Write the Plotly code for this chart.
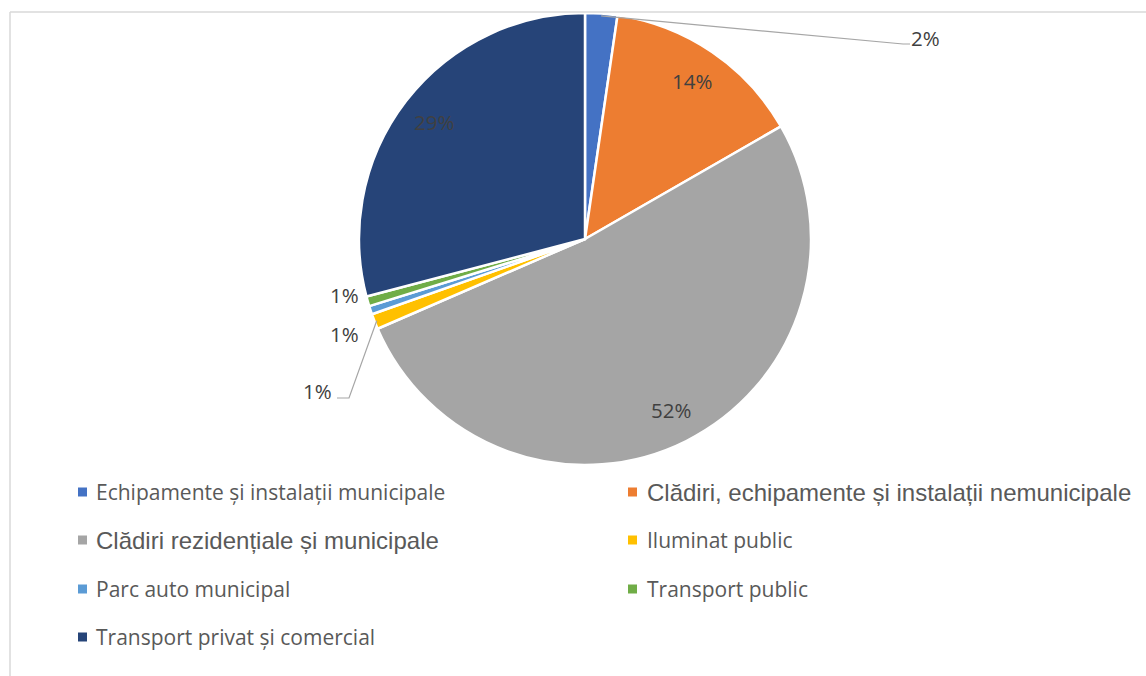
import math
import plotly.graph_objects as go

# Energy consumption shares by sector
categories = [
    "Echipamente și instalații municipale",
    "Clădiri, echipamente și instalații nemunicipale",
    "Clădiri rezidențiale și municipale",
    "Iluminat public",
    "Parc auto municipal",
    "Transport public",
    "Transport privat și comercial",
]
values = [2.3, 14.4, 51.8, 1.1, 0.6, 0.7, 29.1]
colors = ["#4472C4", "#ED7D31", "#A5A5A5", "#FFC000", "#5B9BD5", "#70AD47", "#264478"]

W, H = 1146, 676
CX, CY, R = 585, 239, 226

CALIBRI_LIKE = "'Open Sans', 'Noto Sans', sans-serif"
ARIAL_LIKE = "'Liberation Sans', Arial, sans-serif"
TEXT_COLOR = "#595959"
LABEL_COLOR = "#404040"
LEADER_COLOR = "#A6A6A6"


def px(x):
    return x / W


def py(y):
    return 1 - y / H


fig = go.Figure(
    go.Pie(
        labels=categories,
        values=values,
        sort=False,
        direction="clockwise",
        rotation=0,
        marker=dict(colors=colors, line=dict(color="white", width=2.5)),
        textinfo="none",
        hoverinfo="label+percent",
        showlegend=False,
        domain=dict(x=[px(CX - R), px(CX + R)], y=[py(CY + R), py(CY - R)]),
    )
)

total = sum(values)
pct_text = [f"{round(v / total * 100)}%" for v in values]

# Mid-angle of each slice (degrees clockwise from 12 o'clock)
mids = []
acc = 0.0
for v in values:
    mids.append((acc + v / 2) / total * 360)
    acc += v


def polar(angle_deg, r):
    a = math.radians(angle_deg)
    return CX + r * math.sin(a), CY - r * math.cos(a)


annotations = []
shapes = []
label_font = dict(family=CALIBRI_LIKE, size=20.5, color=LABEL_COLOR)

# Labels inside the large slices
for i in (1, 2, 6):
    lx, ly = polar(mids[i], 0.845 * R)
    annotations.append(dict(
        x=px(lx), y=py(ly), xref="paper", yref="paper", text=pct_text[i],
        showarrow=False, font=label_font, xanchor="center", yanchor="middle",
    ))

# Outside labels: (slice index, label position, leader path or None)
outside = [
    (0, (926, 38), [(903, 44), (910, 44)]),
    (5, (344, 295), None),
    (4, (344, 334), None),
    (3, (317, 391), [(349, 398), (337, 398)]),
]
for i, (lx, ly), path in outside:
    annotations.append(dict(
        x=px(lx), y=py(ly), xref="paper", yref="paper", text=pct_text[i],
        showarrow=False, font=label_font, xanchor="center", yanchor="middle",
    ))
    if path:
        sx, sy = polar(mids[i], R * 0.99)
        pts = [(sx, sy)] + path
        d = "M " + " L ".join(f"{px(x)},{py(y)}" for x, y in pts)
        shapes.append(dict(type="path", path=d, xref="paper", yref="paper",
                           line=dict(color=LEADER_COLOR, width=1.2)))

# Legend drawn as two columns of square markers and text
col_marker_x = [78, 628]
col_text_x = [94, 645]
row_y = [492, 540, 589, 637]
large_entries = {1, 2}
for i, name in enumerate(categories):
    col, row = i % 2, i // 2
    mx, my = col_marker_x[col], row_y[row]
    shapes.append(dict(type="rect", xref="paper", yref="paper",
                       x0=px(mx), x1=px(mx + 9), y0=py(my + 4.5), y1=py(my - 4.5),
                       fillcolor=colors[i], line=dict(width=0)))
    if i in large_entries:
        font = dict(family=ARIAL_LIKE, size=24, color=TEXT_COLOR)
    else:
        font = dict(family=CALIBRI_LIKE, size=21, color=TEXT_COLOR)
    annotations.append(dict(
        x=px(col_text_x[col]), y=py(my), xref="paper", yref="paper", text=name,
        showarrow=False, font=font, xanchor="left", yanchor="middle",
    ))

# Chart area frame
shapes.append(dict(type="line", xref="paper", yref="paper", x0=px(10), x1=1,
                   y0=py(12), y1=py(12), line=dict(color="#D9D9D9", width=1.5)))
shapes.append(dict(type="line", xref="paper", yref="paper", x0=px(10), x1=px(10),
                   y0=py(12), y1=0, line=dict(color="#D9D9D9", width=1.5)))

fig.update_layout(
    width=W, height=H,
    margin=dict(l=0, r=0, t=0, b=0),
    paper_bgcolor="white", plot_bgcolor="white",
    annotations=annotations, shapes=shapes,
)

fig.write_html("out.html")
